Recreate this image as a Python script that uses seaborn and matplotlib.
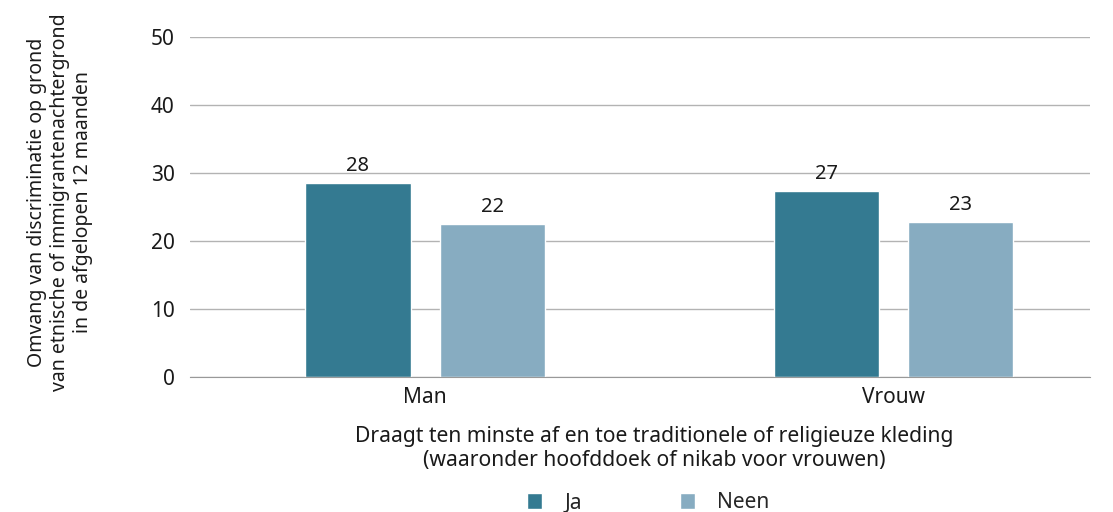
import numpy as np
import pandas as pd
from matplotlib import pyplot as plt
import seaborn as sns

groups = ['Man', 'Man', 'Vrouw', 'Vrouw']
answers = ['Ja', 'Neen', 'Ja', 'Neen']
values = [28.6, 22.45, 27.3, 22.8]
labels = ['28', '22', '27', '23']
colors = {'Ja': '#347a91', 'Neen': '#87acc1'}

df = pd.DataFrame({'groep': groups, 'antwoord': answers, 'waarde': values})

sns.set_style('white')
plt.rcParams['font.family'] = ['Noto Sans', 'DejaVu Sans']

fig = plt.figure(figsize=(11.13, 5.12), dpi=100)
ax = fig.add_axes([190 / 1113, 1 - 377 / 512, 900 / 1113, 340 / 512])

sns.barplot(data=df, x='groep', y='waarde', hue='antwoord', palette=colors,
            width=0.573, gap=0.217, saturation=1, ax=ax, legend=True)

ax.set_ylim(0, 50)
ax.set_xlim(-0.502, 1.42)
ax.set_yticks([0, 10, 20, 30, 40, 50])
ax.grid(axis='y', color='#b3b3b3', linewidth=1)
ax.set_axisbelow(True)
for s in ['top', 'right', 'left']:
    ax.spines[s].set_visible(False)
ax.spines['bottom'].set_color('#999999')
ax.tick_params(axis='both', length=0, labelsize=15, colors='#1a1a1a')
ax.tick_params(axis='y', pad=11)
ax.tick_params(axis='x', pad=7)

# waarden boven de staven
for container, lab in zip(ax.containers, [[labels[0], labels[2]], [labels[1], labels[3]]]):
    ax.bar_label(container, labels=lab, fontsize=14.5, padding=5, color='#1a1a1a')

ax.set_ylabel('Omvang van discriminatie op grond\nvan etnische of immigrantenachtergrond\nin de afgelopen 12 maanden',
              fontsize=14, linespacing=1.2, color='#1a1a1a')
ax.yaxis.set_label_coords(-0.108, 0.515)
ax.set_xlabel('Draagt ten minste af en toe traditionele of religieuze kleding\n(waaronder hoofddoek of nikab voor vrouwen)',
              fontsize=15.2, linespacing=1.15, color='#1a1a1a')
ax.xaxis.set_label_coords(0.516, -0.145)

handles, _ = ax.get_legend_handles_labels()
ax.legend(handles, ['Ja', 'Neen'], loc='center', bbox_to_anchor=(0.509, -0.37),
          ncol=2, frameon=False, fontsize=15, handlelength=0.75, handleheight=0.75,
          columnspacing=4.7, handletextpad=1.05)

plt.savefig('out.png', dpi=100)
